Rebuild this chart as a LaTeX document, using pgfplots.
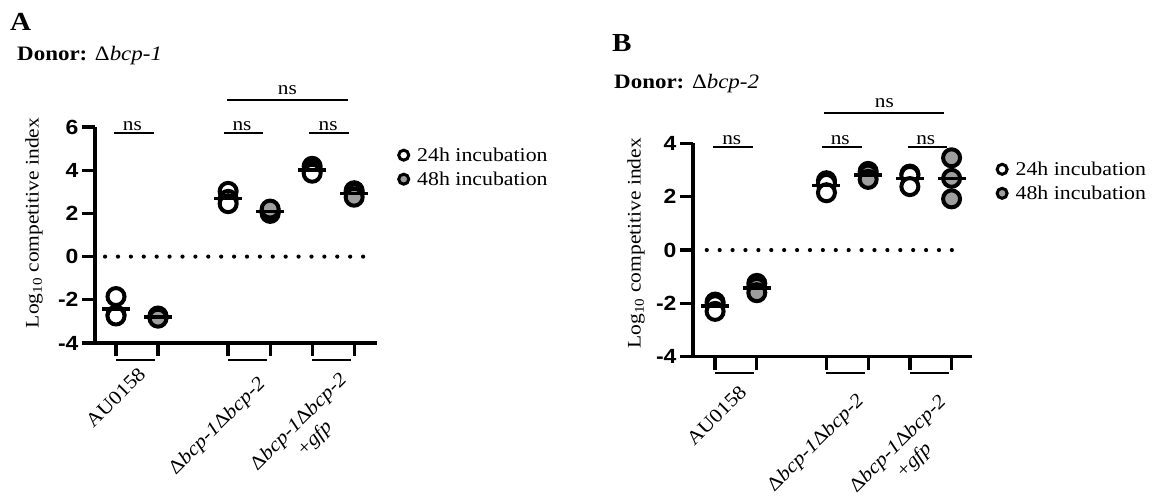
\documentclass[border=0pt]{standalone}
\usepackage{fontspec}
\setmainfont[FakeStretch=1.12]{Liberation Serif}
\newfontfamily\tickfont[FakeStretch=1.12]{Liberation Sans}
\usepackage{pgfplots}
\pgfplotsset{compat=1.18}
\definecolor{fgray}{RGB}{158,158,158}
\newcommand{\fsz}[2]{\fontsize{#1bp}{#2bp}\selectfont}

\pgfplotsset{
 ciaxis/.style={
   scale only axis, clip=false,
   axis x line*=bottom, axis y line*=left,
   axis line style={line width=3.5bp,-},
   xtick={1,2,3.67,4.67,5.67,6.67}, xticklabels={},
   tick align=outside, major tick length=13bp,
   every tick/.append style={line width=3.3bp, black},
   yticklabel style={font=\tickfont\bfseries\fsz{20.5}{24}},
   ylabel style={font=\fsz{19.2}{23}, anchor=center},
   ylabel={Log\textsubscript{10} competitive index},
   legend cell align=left,
   legend style={draw=none, fill=none, font=\fsz{19.5}{23}, inner sep=0pt, row sep=6bp, nodes={inner sep=1.5bp}},
 },
 h24/.style={only marks, mark=*, mark size=8.5bp, mark options={draw=black, fill=white, line width=4bp},
   legend image code/.code={\draw[line width=3bp, fill=white] (0bp,0bp) circle (5bp); \path[draw=none] (-6.5bp,0bp) -- (12bp,0bp);}},
 h48/.style={only marks, mark=*, mark size=8.5bp, mark options={draw=black, fill=fgray, line width=4bp},
   legend image code/.code={\draw[line width=3bp, fill=fgray] (0bp,0bp) circle (5bp); \path[draw=none] (-6.5bp,0bp) -- (12bp,0bp);}},
 meanl/.style={only marks, mark=-, mark size=14bp, mark options={line width=3.4bp}, forget plot},
}
\tikzset{
 nsline/.style={line width=2bp},
 nstext/.style={font=\fsz{19}{23}, anchor=base, inner sep=0pt},
 dotl/.style={line width=4.2bp, line cap=round, dash pattern=on 0pt off 12.9bp},
 grpbar/.style={line width=2.2bp},
 xlab/.style={rotate=45, anchor=north east, inner sep=0pt, font=\fsz{19.5}{23}},
}

\begin{document}
\begin{tikzpicture}
\path[use as bounding box] (0,0) rectangle (1161bp,-497bp);

% ---------------- Panel A ----------------
\node[anchor=base west, inner sep=0pt, font=\bfseries\fsz{26}{30}] at (10bp,-30bp) {A};
\node[anchor=base west, inner sep=0pt, font=\fsz{20.5}{24}] at (17bp,-60bp) {\textbf{Donor:} Δ\textit{bcp-1}};

\begin{axis}[ciaxis, at={(95bp,-343bp)}, anchor=south west,
  width=282bp, height=216bp, xmin=0.5, xmax=7.214, ymin=-4, ymax=6,
  ytick={-4,-2,0,2,4,6}, yticklabels={-4,-2,0,2,4,6},
  ylabel style={at={(axis description cs:-0.216,0.556)}},
  legend style={at={(axis description cs:1.071,0.814)}, anchor=west}]
\draw[dotl] (axis cs:0.74,0) -- (axis cs:6.98,0);
\addplot[h24] coordinates {(1,-1.85) (1,-2.70) (1,-2.75) (3.67,3.02) (3.67,2.65) (3.67,2.45) (5.67,4.18) (5.67,4.0) (5.67,3.86)};
\addlegendentry{24h incubation}
\addplot[h48] coordinates {(2,-2.75) (2,-2.8) (2,-2.85) (4.67,2.0) (4.67,2.1) (4.67,2.2) (6.67,3.05) (6.67,2.95) (6.67,2.75)};
\addlegendentry{48h incubation}
\addplot[meanl] coordinates {(1,-2.42) (2,-2.8) (3.67,2.7) (4.67,2.1) (5.67,4.01) (6.67,2.92)};
\draw[line width=3.5bp] (rel axis cs:0,0) -- ([xshift=-13bp]rel axis cs:0,0);
\draw[grpbar] ([yshift=-17bp]axis cs:1,-4) -- ([yshift=-17bp]axis cs:1.93,-4);
\draw[grpbar] ([yshift=-17bp]axis cs:3.67,-4) -- ([yshift=-17bp]axis cs:4.6,-4);
\draw[grpbar] ([yshift=-17bp]axis cs:5.67,-4) -- ([yshift=-17bp]axis cs:6.6,-4);
\draw[nsline] (axis cs:0.95,5.72) -- (axis cs:1.9,5.72);
\node[nstext, yshift=2.5bp] at (axis cs:1.39,5.72) {ns};
\draw[nsline] (axis cs:3.57,5.72) -- (axis cs:4.5,5.72);
\node[nstext, yshift=2.5bp] at (axis cs:4.0,5.72) {ns};
\draw[nsline] (axis cs:5.6,5.72) -- (axis cs:6.55,5.72);
\node[nstext, yshift=2.5bp] at (axis cs:6.05,5.72) {ns};
\draw[nsline] (axis cs:3.64,7.25) -- (axis cs:6.52,7.25);
\node[nstext, yshift=5bp] at (axis cs:5.08,7.25) {ns};
\end{axis}
\node[xlab] at (137.5bp,-366bp) {AU0158};
\node[xlab] at (256.5bp,-375bp) {Δ\textit{bcp-1}Δ\textit{bcp-2}};
\node[xlab, align=center] at (338bp,-371bp) {Δ\textit{bcp-1}Δ\textit{bcp-2}\\+\textit{gfp}};

% ---------------- Panel B ----------------
\node[anchor=base west, inner sep=0pt, font=\bfseries\fsz{26}{30}] at (612bp,-51.7bp) {B};
\node[anchor=base west, inner sep=0pt, font=\fsz{20.5}{24}] at (614bp,-88.3bp) {\textbf{Donor:} Δ\textit{bcp-2}};

\begin{axis}[ciaxis, at={(693bp,-356.7bp)}, anchor=south west,
  width=279bp, height=213.3bp, xmin=0.47, xmax=7.16, ymin=-4, ymax=4,
  ytick={-4,-2,0,2,4}, yticklabels={-4,-2,0,2,4},
  ylabel style={at={(axis description cs:-0.204,0.532)}},
  legend style={at={(axis description cs:1.084,0.8223)}, anchor=west}]
\draw[dotl] (axis cs:0.8,0) -- (axis cs:6.95,0);
\addplot[h24] coordinates {(1,-1.95) (1,-2.05) (1,-2.3) (3.67,2.6) (3.67,2.5) (3.67,2.15) (5.67,2.85) (5.67,2.8) (5.67,2.38)};
\addlegendentry{24h incubation}
\addplot[h48] coordinates {(2,-1.25) (2,-1.4) (2,-1.6) (4.67,2.95) (4.67,2.85) (4.67,2.65) (6.67,3.46) (6.67,2.69) (6.67,1.92)};
\addlegendentry{48h incubation}
\addplot[meanl] coordinates {(1,-2.1) (2,-1.42) (3.67,2.42) (4.67,2.82) (5.67,2.68) (6.67,2.69)};
\draw[line width=3.5bp] (rel axis cs:0,0) -- ([xshift=-13bp]rel axis cs:0,0);
\draw[grpbar] ([yshift=-16bp]axis cs:1,-4) -- ([yshift=-16bp]axis cs:1.93,-4);
\draw[grpbar] ([yshift=-16bp]axis cs:3.67,-4) -- ([yshift=-16bp]axis cs:4.6,-4);
\draw[grpbar] ([yshift=-16bp]axis cs:5.67,-4) -- ([yshift=-16bp]axis cs:6.6,-4);
\draw[nsline] (axis cs:0.945,3.87) -- (axis cs:1.9,3.87);
\node[nstext, yshift=2.5bp] at (axis cs:1.4,3.87) {ns};
\draw[nsline] (axis cs:3.56,3.87) -- (axis cs:4.52,3.87);
\node[nstext, yshift=2.5bp] at (axis cs:4.0,3.87) {ns};
\draw[nsline] (axis cs:5.63,3.87) -- (axis cs:6.56,3.87);
\node[nstext, yshift=2.5bp] at (axis cs:6.05,3.87) {ns};
\draw[nsline] (axis cs:3.62,5.15) -- (axis cs:6.5,5.15);
\node[nstext, yshift=5bp] at (axis cs:5.06,5.15) {ns};
\end{axis}
\node[xlab] at (738.3bp,-384bp) {AU0158};
\node[xlab] at (855bp,-392bp) {Δ\textit{bcp-1}Δ\textit{bcp-2}};
\node[xlab, align=center] at (937.3bp,-393bp) {Δ\textit{bcp-1}Δ\textit{bcp-2}\\+\textit{gfp}};
\end{tikzpicture}
\end{document}
